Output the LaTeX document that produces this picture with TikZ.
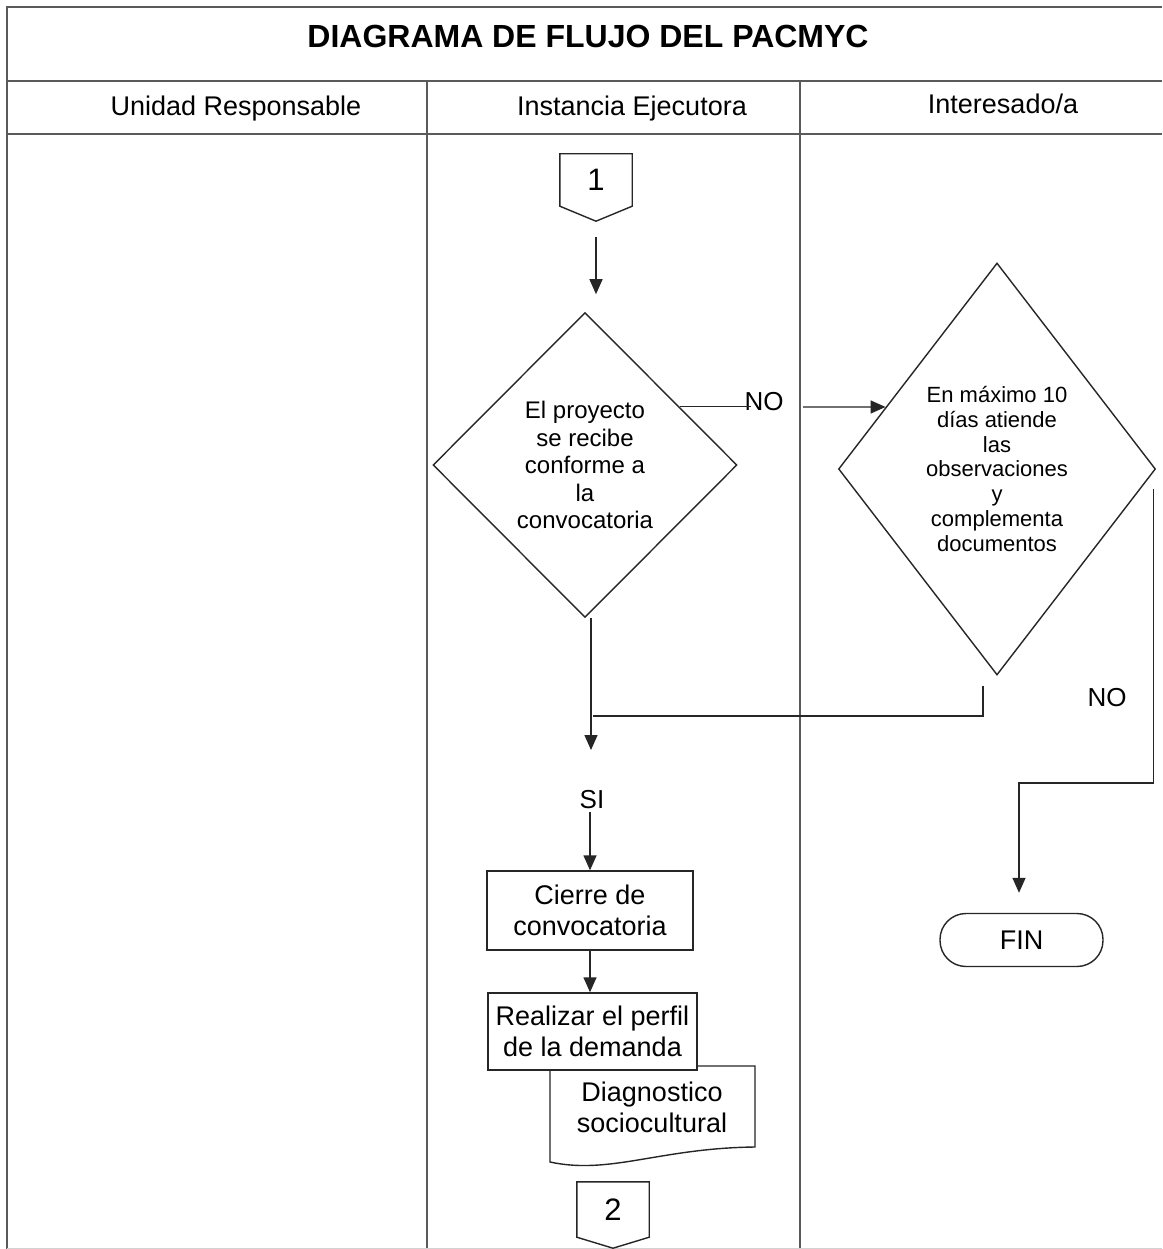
\documentclass[tikz,border=0pt]{standalone}
\usepackage{fontspec}
\setmainfont{Liberation Sans}
\usetikzlibrary{shapes.geometric,arrows.meta,calc}
\definecolor{framec}{HTML}{5A5A5A}
\definecolor{ink}{HTML}{262626}
\newcommand\myfs[2]{\fontsize{#1}{#2}\selectfont}
\begin{document}
\begin{tikzpicture}[x=1pt,y=-1pt,
  frameline/.style={draw=framec,line width=2.2pt},
  flow/.style={draw=ink,line width=1.4pt},
  arr/.style={flow,-{Triangle[length=15pt,width=13pt]}},
  lbl/.style={inner sep=0pt,font=\myfs{26}{30}},
  box/.style={draw=ink,line width=1.4pt,fill=white,inner sep=0pt,align=center,font=\myfs{27}{31}},
  dec/.style={diamond,draw=ink,line width=1.4pt,inner sep=0pt,align=center},
  conn/.style={inner sep=0pt,minimum width=72pt,font=\myfs{31}{34}}]
\useasboundingbox (0,0) rectangle (1162,1249);
\fill[white] (0,0) rectangle (1162,1249);
% frame
\draw[frameline] (7,1249) -- (7,7) -- (1162,7);
\draw[frameline] (7,81) -- (1162,81);
\draw[frameline] (7,134) -- (1162,134);
\draw[frameline] (427,81) -- (427,1249);
\draw[frameline] (800,81) -- (800,1249);
\draw[draw=gray!35,line width=1pt] (7,1248) -- (1162,1248);
% headers
\node[lbl,anchor=base,font={\bfseries\myfs{32}{36}}] (title) at (588,48) {DIAGRAMA DE FLUJO DEL PACMYC};
\node[lbl,anchor=base,font=\myfs{27}{30}] (h1) at (236,116) {Unidad Responsable};
\node[lbl,anchor=base,font=\myfs{27}{30}] (h2) at (632,116) {Instancia Ejecutora};
\node[lbl,anchor=base,font=\myfs{27}{30}] (h3) at (1003,114) {Interesado/a};
% connector 1
\node[conn,minimum height=52pt] (c1) at (596,180) {1};
\draw[flow] (c1.north west) -- (c1.north east) -- (c1.south east) -- ($(c1.south)+(0,15)$) -- (c1.south west) -- cycle;
% decisions
\node[dec,minimum width=304pt,minimum height=305pt,font=\myfs{24}{27.5}] (d1) at (585,465)
  {El proyecto\\se recibe\\conforme a\\la\\convocatoria};
\node[dec,minimum width=317pt,minimum height=412pt,font=\myfs{22}{24.7}] (d2) at (997,469)
  {En máximo 10\\días atiende\\las\\observaciones\\y\\complementa\\documentos};
% process boxes
\node[box,minimum width=206pt,minimum height=79pt] (cierre) at (590,910.5) {Cierre de\\convocatoria};
\draw[flow,fill=white] (550,1066) -- (755,1066) -- (755,1147) .. controls (660,1148) and (610,1175) .. (550,1162) -- cycle;
\node[lbl,align=center,font=\myfs{27}{31}] (diag) at (652,1107) {Diagnostico\\sociocultural};
\node[box,minimum width=209pt,minimum height=77pt] (perfil) at (592.5,1031.5) {Realizar el perfil\\de la demanda};
% connector 2
\node[conn,minimum height=55pt] (c2) at (613,1209.5) {2};
\draw[flow] (c2.north west) -- (c2.north east) -- (c2.south east) -- ($(c2.south)+(0,11)$) -- (c2.south west) -- cycle;
% terminator
\node[draw=ink,line width=1.4pt,rounded corners=26pt,minimum width=163pt,minimum height=53pt,inner sep=0pt,font=\myfs{27}{30}] (fin) at (1021.5,940) {FIN};
% labels
\node[lbl] (no1) at (764,402) {NO};
\node[lbl] (no2) at (1107,698) {NO};
\node[lbl] (si) at (592,800) {SI};
% coordinates
\coordinate (n1) at (803,407);
\coordinate (m1) at (593,716);
\coordinate (s1) at (591,750);
% connectors
\draw[arr] ([yshift=-31pt]c1.south) -- ++(0,57);
\draw[flow] ($(d1.north)!0.62!(d1.east)$) -- ++(71,0);
\draw[arr] (n1) -- ($(d2.north)!0.70!(d2.west)$);
\draw[flow] ($(d2.south)+(-14,10)$) |- (m1);
\draw[arr] (d1.south -| s1) -- (s1);
\draw[arr] ([yshift=-3pt]si.south -| cierre.north) -- (cierre.north);
\draw[arr] (cierre.south) -- (cierre.south |- perfil.north);
\draw[arr] ($(d2.east)+(-3,20)$) -- ++(0,294) -| ($(fin.north)+(-2.5,-20)$);
\end{tikzpicture}
\end{document}
